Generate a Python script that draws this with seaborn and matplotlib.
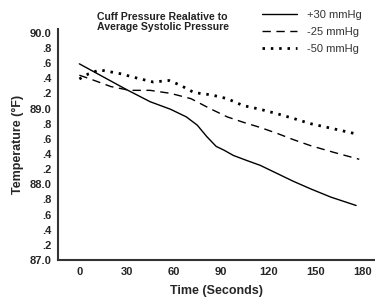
import matplotlib
matplotlib.use("Agg")
import matplotlib.pyplot as plt
import seaborn as sns
import pandas as pd

# series (time in s, temperature in °F)
t_plus30 = [0, 15, 30, 45, 58, 68, 75, 81, 87, 92, 98, 107, 115, 126, 136, 147, 160, 176]
v_plus30 = [89.59, 89.42, 89.25, 89.09, 88.99, 88.89, 88.78, 88.63, 88.50, 88.45, 88.38, 88.31, 88.25, 88.14, 88.04, 87.94, 87.83, 87.72]

t_minus25 = [0, 7, 20, 32, 45, 58, 71, 83, 94, 104, 115, 126, 136, 147, 162, 178]
v_minus25 = [89.44, 89.39, 89.29, 89.24, 89.24, 89.20, 89.13, 89.00, 88.89, 88.82, 88.75, 88.67, 88.59, 88.51, 88.42, 88.33]

t_minus50 = [0, 6, 13, 26, 37, 47, 57, 64, 73, 84, 94, 104, 115, 126, 136, 147, 160, 175]
v_minus50 = [89.39, 89.46, 89.51, 89.46, 89.40, 89.35, 89.37, 89.31, 89.21, 89.18, 89.13, 89.04, 88.99, 88.93, 88.87, 88.80, 88.74, 88.67]

labels = ["+30 mmHg", "-25 mmHg", "-50 mmHg"]
xticks = [0, 30, 60, 90, 120, 150, 180]
yticks = [87.0, 87.2, 87.4, 87.6, 87.8, 88.0, 88.2, 88.4, 88.6, 88.8, 89.0, 89.2, 89.4, 89.6, 89.8, 90.0]
ytick_labels = ["87.0", ".2", ".4", ".6", ".8", "88.0", ".2", ".4", ".6", ".8",
                "89.0", ".2", ".4", ".6", ".8", "90.0"]

sns.set_style("white")
plt.rcParams["font.family"] = ["Liberation Sans", "DejaVu Sans"]

fig = plt.figure(figsize=(3.75, 3.02), dpi=100)
ax = fig.add_axes([0.155, 0.139, 0.845, 0.765])

styles = [dict(linestyle="-", linewidth=1.0),
          dict(linestyle=(0, (6, 4)), linewidth=1.0),
          dict(linestyle=(0, (0.9, 2.1)), linewidth=2.0)]
series = [(t_plus30, v_plus30), (t_minus25, v_minus25), (t_minus50, v_minus50)]
for (tt, vv), lab, st in zip(series, labels, styles):
    df = pd.DataFrame({"t": tt, "v": vv})
    sns.lineplot(data=df, x="t", y="v", ax=ax, color="black", label=lab,
                 solid_joinstyle="round", **st)

ax.set_xlim(-13.5, 188)
ax.set_ylim(87.0, 90.05)
ax.set_xticks(xticks)
ax.set_xticklabels([str(x) for x in xticks], fontweight="bold", fontsize=8)
ax.set_yticks(yticks)
ax.set_yticklabels(ytick_labels, fontweight="bold", fontsize=8)
ax.tick_params(length=0, pad=5)
for s in ["top", "right"]:
    ax.spines[s].set_visible(False)
for s in ["left", "bottom"]:
    ax.spines[s].set_color("#333333")
    ax.spines[s].set_linewidth(1.5)

ax.set_xlabel("Time (Seconds)", fontweight="bold", fontsize=9, labelpad=6)
ax.set_ylabel("Temperature (°F)", fontweight="bold", fontsize=9, labelpad=4)

fig.text(0.259, 0.96, "Cuff Pressure Realative to\nAverage Systolic Pressure",
         fontweight="bold", fontsize=7.6, va="top", ha="left", linespacing=1.05,
         color="#222222")

ax.legend_.remove()
handles, labs = ax.get_legend_handles_labels()
fig.legend(handles, labs, loc="upper right", bbox_to_anchor=(0.99, 1.0),
           frameon=False, fontsize=8, handlelength=3.1, handletextpad=0.9,
           labelspacing=0.62, labelcolor="#333333")

fig.savefig("out.png", dpi=100)
